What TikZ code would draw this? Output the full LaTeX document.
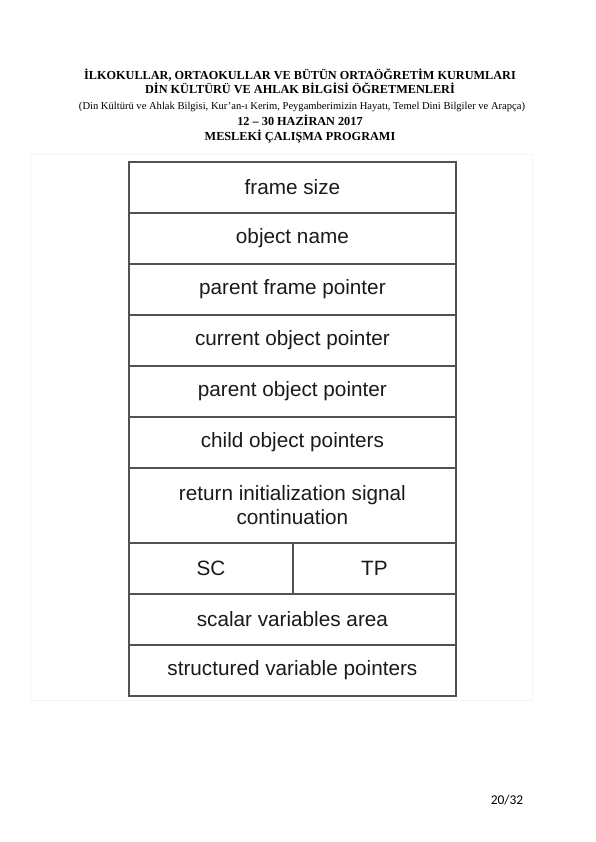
\documentclass[tikz,border=0pt]{standalone}
\usepackage{fontspec}
\setmainfont{Liberation Serif}
\newfontfamily\diagfont{Liberation Sans}
\newfontfamily\pagefont{Carlito}
\definecolor{framegray}{HTML}{525252}
\definecolor{inkdark}{HTML}{1A1A1A}
\definecolor{scanedge}{HTML}{F4F4F4}
\begin{document}
\begin{tikzpicture}[x=1bp,y=-1bp,
  heading/.style={font=\bfseries\fontsize{12.3}{14}\selectfont, inner sep=0pt, anchor=base},
  subheading/.style={font=\fontsize{10.6}{12}\selectfont, inner sep=0pt, anchor=base},
  cell/.style={draw=framegray, line width=1.8bp, inner sep=0pt,
    text=inkdark, font=\diagfont\fontsize{20.8}{24}\selectfont,
    minimum width=327bp, minimum height=51bp, anchor=north west, align=center},
  halfcell/.style={cell, minimum width=164bp}]
\path[use as bounding box] (0,0) rectangle (596,842);
\fill[white] (0,0) rectangle (596,842);

% title block
\node[heading]    (t1) at (300,79)  {İLKOKULLAR, ORTAOKULLAR VE BÜTÜN ORTAÖĞRETİM KURUMLARI};
\node[heading]    (t2) at (300,93)  {DİN KÜLTÜRÜ VE AHLAK BİLGİSİ ÖĞRETMENLERİ};
\node[subheading] (t3) at (302,109) {(Din Kültürü ve Ahlak Bilgisi, Kur’an-ı Kerim, Peygamberimizin Hayatı, Temel Dini Bilgiler ve Arapça)};
\node[heading]    (t4) at (300,125) {12 – 30 HAZİRAN 2017};
\node[heading]    (t5) at (300,140) {MESLEKİ ÇALIŞMA PROGRAMI};

% faint edge of the pasted figure
\draw[scanedge, line width=0.8bp] (30,154) rectangle (532,700);

% activation frame layout
\node[cell] (r1)  at (128,161) {frame size};
\node[cell] (r2)  at (128,212) {object name};
\node[cell] (r3)  at (128,263) {parent frame pointer};
\node[cell] (r4)  at (128,314) {current object pointer};
\node[cell] (r5)  at (128,365) {parent object pointer};
\node[cell] (r6)  at (128,416) {child object pointers};
\node[cell, minimum height=75bp] (r7) at (128,467) {return initialization signal\\continuation};
\node[halfcell] (sc) at (128,542) {SC};
\node[halfcell, minimum width=163bp] (tp) at (292,542) {TP};
\node[cell] (r9)  at (128,593) {scalar variables area};
\node[cell] (r10) at (128,644) {structured variable pointers};

% page number
\node[font=\pagefont\fontsize{13.5}{15}\selectfont, inner sep=0pt, anchor=base] (pg) at (507,804) {20/32};
\end{tikzpicture}
\end{document}
